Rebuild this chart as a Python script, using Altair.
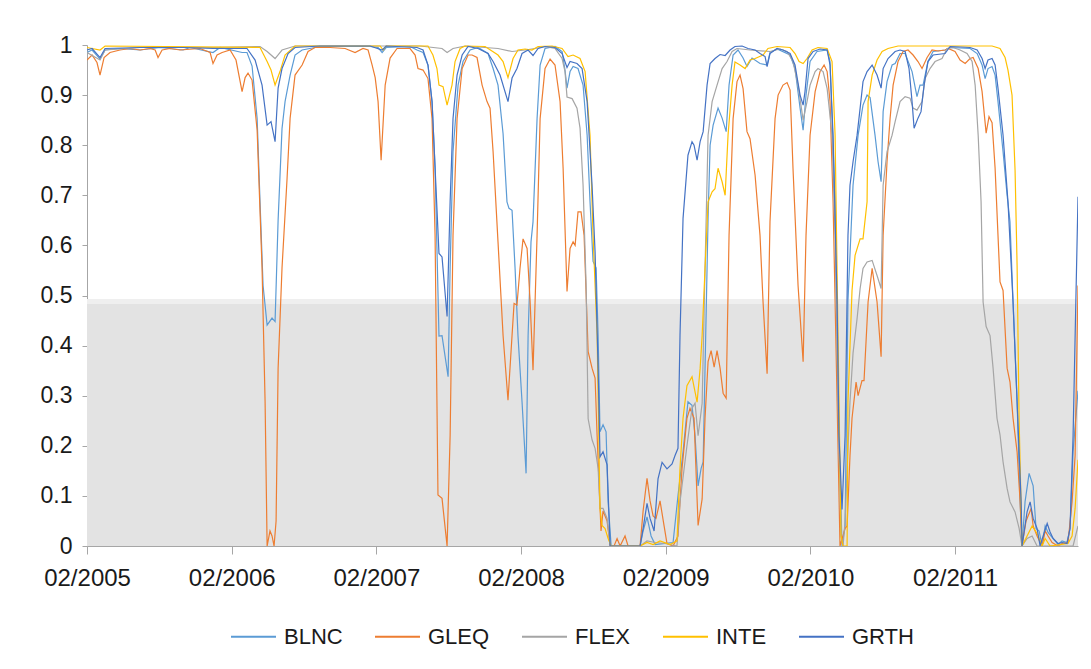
import altair as alt
import pandas as pd

SERIES = ["BLNC", "GLEQ", "FLEX", "INTE", "GRTH"]
COLORS = ["#5B9BD5", "#ED7D31", "#A5A5A5", "#FFC000", "#4472C4"]

# time as decimal year (02/2005 = 2005.083)
GLEQ_T = [2005.083, 2005.118, 2005.152, 2005.173, 2005.201, 2005.242, 2005.311, 2005.381, 2005.450, 2005.519,
          2005.554, 2005.574, 2005.602, 2005.657, 2005.726, 2005.864, 2005.934, 2005.954, 2005.982, 2006.017,
          2006.072, 2006.113, 2006.155, 2006.176, 2006.196, 2006.224, 2006.259, 2006.293, 2006.314, 2006.328,
          2006.348, 2006.362, 2006.376, 2006.390, 2006.404, 2006.431, 2006.466, 2006.487, 2006.521, 2006.570,
          2006.611, 2006.659, 2006.763, 2006.867, 2006.936, 2006.991, 2007.026, 2007.054, 2007.075, 2007.095,
          2007.116, 2007.144, 2007.178, 2007.226, 2007.316, 2007.351, 2007.371, 2007.406, 2007.440, 2007.468,
          2007.489, 2007.509, 2007.537, 2007.572, 2007.593, 2007.613, 2007.641, 2007.676, 2007.717, 2007.745,
          2007.779, 2007.814, 2007.848, 2007.869, 2007.890, 2007.924, 2007.959, 2007.993, 2008.021, 2008.035,
          2008.055, 2008.076, 2008.097, 2008.125, 2008.146, 2008.166, 2008.194, 2008.215, 2008.249, 2008.284,
          2008.318, 2008.353, 2008.374, 2008.401, 2008.422, 2008.443, 2008.457, 2008.477, 2008.498, 2008.519,
          2008.547, 2008.574, 2008.595, 2008.609, 2008.636, 2008.650, 2008.678, 2008.699, 2008.726, 2008.747,
          2008.768, 2008.802, 2008.823, 2008.906, 2008.927, 2008.954, 2008.975, 2008.996, 2009.016, 2009.044,
          2009.072, 2009.092, 2009.134, 2009.168, 2009.196, 2009.230, 2009.251, 2009.279, 2009.307, 2009.335,
          2009.355, 2009.376, 2009.397, 2009.418, 2009.438, 2009.459, 2009.480, 2009.501, 2009.521, 2009.549,
          2009.576, 2009.597, 2009.618, 2009.645, 2009.666, 2009.701, 2009.735, 2009.756, 2009.784, 2009.804,
          2009.839, 2009.860, 2009.894, 2009.922, 2009.943, 2009.963, 2009.998, 2010.033, 2010.053, 2010.081,
          2010.116, 2010.150, 2010.178, 2010.199, 2010.219, 2010.240, 2010.268, 2010.288, 2010.323, 2010.337,
          2010.357, 2010.371, 2010.399, 2010.413, 2010.440, 2010.454, 2010.482, 2010.510, 2010.544, 2010.572,
          2010.586, 2010.613, 2010.634, 2010.655, 2010.689, 2010.724, 2010.758, 2010.793, 2010.827, 2010.855,
          2010.890, 2010.924, 2010.966, 2011.014, 2011.035, 2011.083, 2011.118, 2011.153, 2011.187, 2011.208,
          2011.243, 2011.270, 2011.298, 2011.318, 2011.339, 2011.360, 2011.380, 2011.394, 2011.415, 2011.443,
          2011.463, 2011.484, 2011.512, 2011.533, 2011.546, 2011.574, 2011.609, 2011.623, 2011.650, 2011.685,
          2011.706, 2011.726, 2011.754, 2011.795, 2011.823, 2011.864, 2011.892, 2011.913, 2011.933]
GLEQ_V = [0.97, 0.98, 0.965, 0.94, 0.975, 0.985, 0.99, 0.993, 0.99, 0.993,
          0.99, 0.975, 0.99, 0.993, 0.99, 0.993, 0.985, 0.963, 0.98, 0.985,
          0.99, 0.97, 0.907, 0.935, 0.944, 0.93, 0.83, 0.555, 0.288, 0.0,
          0.03, 0.02, 0.0, 0.05, 0.355, 0.555, 0.734, 0.854, 0.94, 0.96,
          0.987, 0.995, 0.995, 0.993, 0.985, 0.993, 0.99, 0.96, 0.935, 0.887,
          0.77, 0.92, 0.974, 0.993, 0.993, 0.98, 0.953, 0.95, 0.933, 0.853,
          0.62, 0.102, 0.095, 0.0, 0.22, 0.62, 0.853, 0.953, 0.98, 0.98,
          0.975, 0.92, 0.887, 0.874, 0.787, 0.607, 0.42, 0.291, 0.42, 0.484,
          0.481, 0.554, 0.613, 0.594, 0.487, 0.351, 0.62, 0.853, 0.953, 0.972,
          0.96, 0.887, 0.754, 0.508, 0.594, 0.607, 0.6, 0.667, 0.667, 0.62,
          0.388, 0.355, 0.335, 0.22, 0.03, 0.07, 0.05, 0.0, 0.0, 0.015,
          0.0, 0.02, 0.0, 0.0, 0.07, 0.135, 0.09, 0.06, 0.055, 0.09,
          0.04, 0.005, 0.0, 0.02, 0.155, 0.255, 0.275, 0.255, 0.041, 0.094,
          0.255, 0.368, 0.39, 0.357, 0.39, 0.355, 0.305, 0.295, 0.62, 0.853,
          0.927, 0.94, 0.913, 0.827, 0.813, 0.74, 0.62, 0.487, 0.344, 0.647,
          0.853, 0.9, 0.92, 0.925, 0.91, 0.754, 0.52, 0.368, 0.62, 0.82,
          0.907, 0.947, 0.96, 0.947, 0.887, 0.687, 0.288, 0.0, 0.035, 0.04,
          0.18, 0.255, 0.327, 0.3, 0.33, 0.33, 0.487, 0.554, 0.487, 0.378,
          0.62, 0.767, 0.853, 0.92, 0.967, 0.987, 0.99, 0.98, 0.967, 0.953,
          0.975, 0.99, 0.988, 0.99, 0.993, 0.987, 0.97, 0.963, 0.973, 0.975,
          0.953, 0.907, 0.824, 0.857, 0.845, 0.754, 0.62, 0.527, 0.51, 0.355,
          0.327, 0.255, 0.188, 0.088, 0.0, 0.05, 0.075, 0.04, 0.02, 0.0,
          0.03, 0.02, 0.007, 0.0, 0.005, 0.007, 0.088, 0.18, 0.52]

BLNC_T = [2005.083, 2005.118, 2005.173, 2005.208, 2005.311, 2005.450, 2005.588, 2005.747, 2005.795, 2005.954,
          2006.003, 2006.155, 2006.189, 2006.224, 2006.259, 2006.279, 2006.300, 2006.328, 2006.362, 2006.383,
          2006.404, 2006.431, 2006.452, 2006.487, 2006.521, 2006.570, 2006.694, 2007.040, 2007.095, 2007.123,
          2007.151, 2007.316, 2007.364, 2007.406, 2007.440, 2007.468, 2007.489, 2007.516, 2007.537, 2007.579,
          2007.593, 2007.613, 2007.648, 2007.682, 2007.731, 2007.786, 2007.855, 2007.890, 2007.924, 2007.959,
          2007.986, 2008.000, 2008.021, 2008.042, 2008.062, 2008.090, 2008.118, 2008.132, 2008.152, 2008.166,
          2008.194, 2008.215, 2008.249, 2008.318, 2008.367, 2008.387, 2008.401, 2008.422, 2008.443, 2008.477,
          2008.512, 2008.540, 2008.560, 2008.581, 2008.602, 2008.616, 2008.629, 2008.650, 2008.671, 2008.685,
          2008.706, 2008.906, 2008.927, 2008.954, 2008.982, 2009.010, 2009.134, 2009.168, 2009.203, 2009.237,
          2009.265, 2009.286, 2009.307, 2009.328, 2009.342, 2009.355, 2009.376, 2009.390, 2009.411, 2009.445,
          2009.473, 2009.501, 2009.521, 2009.549, 2009.583, 2009.618, 2009.645, 2009.680, 2009.735, 2009.784,
          2009.804, 2009.853, 2009.943, 2009.977, 2010.012, 2010.033, 2010.053, 2010.081, 2010.129, 2010.199,
          2010.219, 2010.254, 2010.274, 2010.302, 2010.323, 2010.343, 2010.378, 2010.413, 2010.447, 2010.475,
          2010.496, 2010.530, 2010.551, 2010.572, 2010.586, 2010.613, 2010.648, 2010.669, 2010.703, 2010.738,
          2010.786, 2010.820, 2010.841, 2010.862, 2010.896, 2010.931, 2011.014, 2011.049, 2011.187, 2011.236,
          2011.270, 2011.291, 2011.311, 2011.339, 2011.360, 2011.380, 2011.415, 2011.443, 2011.463, 2011.484,
          2011.512, 2011.533, 2011.546, 2011.567, 2011.595, 2011.623, 2011.643, 2011.664, 2011.685, 2011.706,
          2011.726, 2011.754, 2011.775, 2011.795, 2011.823, 2011.857, 2011.878, 2011.899, 2011.933]
BLNC_V = [0.985, 0.99, 0.972, 0.99, 0.993, 0.99, 0.995, 0.99, 0.995, 0.985,
          0.995, 0.985, 0.985, 0.958, 0.853, 0.687, 0.52, 0.441, 0.455, 0.448,
          0.65, 0.833, 0.887, 0.94, 0.98, 0.99, 0.997, 0.997, 0.995, 0.985,
          0.995, 0.997, 0.99, 0.985, 0.96, 0.887, 0.755, 0.419, 0.42, 0.338,
          0.555, 0.787, 0.92, 0.967, 0.99, 0.995, 0.983, 0.953, 0.92, 0.823,
          0.687, 0.674, 0.67, 0.554, 0.42, 0.288, 0.145, 0.42, 0.607, 0.647,
          0.853, 0.96, 0.993, 0.997, 0.987, 0.95, 0.914, 0.947, 0.957, 0.953,
          0.92, 0.82, 0.687, 0.568, 0.555, 0.42, 0.228, 0.242, 0.228, 0.088,
          0.0, 0.0, 0.03, 0.058, 0.02, 0.003, 0.007, 0.1, 0.188, 0.288,
          0.281, 0.22, 0.12, 0.155, 0.168, 0.355, 0.654, 0.8, 0.84, 0.874,
          0.854, 0.827, 0.92, 0.98, 0.99, 0.974, 0.957, 0.974, 0.963, 0.96,
          0.985, 0.992, 0.98, 0.953, 0.874, 0.83, 0.9, 0.967, 0.987, 0.99,
          0.967, 0.687, 0.288, 0.0, 0.04, 0.49, 0.72, 0.82, 0.88, 0.9,
          0.895, 0.82, 0.767, 0.727, 0.867, 0.927, 0.96, 0.963, 0.983, 0.983,
          0.947, 0.897, 0.92, 0.92, 0.967, 0.987, 0.99, 0.995, 0.993, 0.983,
          0.96, 0.933, 0.953, 0.957, 0.94, 0.887, 0.787, 0.7, 0.647, 0.487,
          0.288, 0.088, 0.0, 0.088, 0.145, 0.12, 0.035, 0.03, 0.0, 0.04,
          0.027, 0.017, 0.01, 0.003, 0.01, 0.007, 0.035, 0.188, 0.31]

GRTH_T = [2005.083, 2005.118, 2005.173, 2005.208, 2005.450, 2005.747, 2005.954, 2006.189, 2006.245, 2006.293,
          2006.328, 2006.355, 2006.383, 2006.404, 2006.431, 2006.473, 2006.521, 2006.694, 2007.040, 2007.123,
          2007.151, 2007.364, 2007.406, 2007.440, 2007.468, 2007.489, 2007.516, 2007.537, 2007.572, 2007.593,
          2007.613, 2007.641, 2007.676, 2007.717, 2007.786, 2007.855, 2007.890, 2007.938, 2007.993, 2008.021,
          2008.055, 2008.090, 2008.132, 2008.166, 2008.201, 2008.249, 2008.318, 2008.367, 2008.401, 2008.422,
          2008.470, 2008.505, 2008.540, 2008.574, 2008.595, 2008.616, 2008.629, 2008.650, 2008.678, 2008.699,
          2008.906, 2008.927, 2008.954, 2008.975, 2009.003, 2009.030, 2009.058, 2009.092, 2009.127, 2009.147,
          2009.168, 2009.182, 2009.203, 2009.237, 2009.265, 2009.279, 2009.300, 2009.321, 2009.342, 2009.369,
          2009.390, 2009.424, 2009.459, 2009.494, 2009.528, 2009.562, 2009.611, 2009.652, 2009.701, 2009.735,
          2009.770, 2009.784, 2009.804, 2009.853, 2009.894, 2009.943, 2009.977, 2010.012, 2010.033, 2010.046,
          2010.067, 2010.102, 2010.150, 2010.199, 2010.219, 2010.240, 2010.268, 2010.281, 2010.302, 2010.323,
          2010.343, 2010.357, 2010.378, 2010.406, 2010.427, 2010.447, 2010.475, 2010.510, 2010.544, 2010.572,
          2010.586, 2010.620, 2010.669, 2010.703, 2010.738, 2010.765, 2010.786, 2010.800, 2010.827, 2010.848,
          2010.869, 2010.896, 2010.931, 2011.014, 2011.049, 2011.187, 2011.236, 2011.270, 2011.291, 2011.311,
          2011.339, 2011.360, 2011.380, 2011.415, 2011.449, 2011.484, 2011.512, 2011.540, 2011.546, 2011.581,
          2011.602, 2011.623, 2011.650, 2011.671, 2011.692, 2011.720, 2011.740, 2011.761, 2011.795, 2011.823,
          2011.857, 2011.878, 2011.899, 2011.933]
GRTH_V = [0.99, 0.993, 0.975, 0.993, 0.995, 0.995, 0.993, 0.993, 0.97, 0.92,
          0.84, 0.847, 0.807, 0.914, 0.953, 0.983, 0.995, 0.998, 0.998, 0.99,
          0.998, 0.995, 0.99, 0.96, 0.887, 0.755, 0.584, 0.577, 0.458, 0.687,
          0.853, 0.94, 0.98, 0.997, 0.993, 0.983, 0.967, 0.94, 0.887, 0.934,
          0.953, 0.983, 0.99, 0.979, 0.993, 0.997, 0.995, 0.983, 0.955, 0.967,
          0.963, 0.953, 0.887, 0.72, 0.587, 0.354, 0.178, 0.188, 0.162, 0.0,
          0.0, 0.035, 0.085, 0.055, 0.03, 0.134, 0.167, 0.154, 0.164, 0.18,
          0.195, 0.42, 0.654, 0.78, 0.807, 0.8, 0.77, 0.807, 0.827, 0.92,
          0.963, 0.973, 0.981, 0.979, 0.99, 0.997, 0.998, 0.993, 0.99, 0.983,
          0.977, 0.957, 0.983, 0.993, 0.99, 0.983, 0.96, 0.9, 0.88, 0.907,
          0.973, 0.987, 0.992, 0.99, 0.96, 0.82, 0.487, 0.22, 0.073, 0.22,
          0.62, 0.72, 0.767, 0.82, 0.874, 0.927, 0.947, 0.96, 0.94, 0.914,
          0.953, 0.973, 0.987, 0.99, 0.987, 0.953, 0.887, 0.834, 0.854, 0.867,
          0.92, 0.967, 0.98, 0.983, 0.997, 0.995, 0.99, 0.973, 0.953, 0.97,
          0.973, 0.96, 0.914, 0.82, 0.687, 0.487, 0.288, 0.088, 0.0, 0.068,
          0.088, 0.055, 0.035, 0.0, 0.02, 0.045, 0.028, 0.015, 0.005, 0.007,
          0.005, 0.035, 0.22, 0.697]

FLEX_T = [2005.083, 2005.173, 2005.208, 2005.450, 2005.954, 2006.279, 2006.328, 2006.383, 2006.431, 2006.521,
          2007.385, 2007.537, 2007.572, 2007.613, 2007.696, 2007.924, 2008.021, 2008.111, 2008.180, 2008.249,
          2008.318, 2008.367, 2008.387, 2008.401, 2008.436, 2008.470, 2008.491, 2008.512, 2008.533, 2008.547,
          2008.574, 2008.595, 2008.616, 2008.629, 2008.650, 2008.678, 2008.699, 2008.906, 2008.954, 2009.010,
          2009.078, 2009.161, 2009.182, 2009.230, 2009.265, 2009.286, 2009.307, 2009.335, 2009.355, 2009.376,
          2009.404, 2009.438, 2009.473, 2009.507, 2009.542, 2009.576, 2009.666, 2009.804, 2009.874, 2009.922,
          2009.963, 2009.998, 2010.033, 2010.060, 2010.081, 2010.116, 2010.136, 2010.171, 2010.199, 2010.233,
          2010.254, 2010.274, 2010.295, 2010.309, 2010.323, 2010.337, 2010.357, 2010.378, 2010.406, 2010.427,
          2010.447, 2010.475, 2010.510, 2010.544, 2010.572, 2010.586, 2010.613, 2010.648, 2010.669, 2010.703,
          2010.738, 2010.772, 2010.793, 2010.820, 2010.855, 2010.876, 2010.910, 2010.945, 2010.993, 2011.028,
          2011.069, 2011.118, 2011.166, 2011.201, 2011.222, 2011.243, 2011.263, 2011.277, 2011.298, 2011.325,
          2011.346, 2011.373, 2011.394, 2011.415, 2011.443, 2011.463, 2011.498, 2011.526, 2011.546, 2011.581,
          2011.616, 2011.650, 2011.899, 2011.933]
FLEX_V = [0.985, 0.97, 0.99, 0.995, 0.995, 0.997, 0.987, 0.973, 0.99, 0.998,
          0.998, 0.993, 0.985, 0.993, 0.998, 0.993, 0.987, 0.99, 0.993, 0.997,
          0.993, 0.973, 0.947, 0.896, 0.893, 0.874, 0.834, 0.72, 0.52, 0.254,
          0.212, 0.195, 0.155, 0.075, 0.075, 0.055, 0.0, 0.0, 0.01, 0.007,
          0.005, 0.0, 0.088, 0.2, 0.275, 0.285, 0.22, 0.285, 0.554, 0.82,
          0.887, 0.92, 0.953, 0.967, 0.987, 0.993, 0.99, 0.987, 0.992, 0.987,
          0.967, 0.92, 0.85, 0.887, 0.92, 0.947, 0.953, 0.947, 0.913, 0.82,
          0.62, 0.288, 0.02, 0.0, 0.05, 0.155, 0.288, 0.385, 0.454, 0.514,
          0.554, 0.567, 0.57, 0.54, 0.514, 0.72, 0.787, 0.82, 0.847, 0.887,
          0.897, 0.894, 0.874, 0.87, 0.887, 0.933, 0.953, 0.967, 0.973, 0.993,
          0.995, 0.99, 0.983, 0.967, 0.92, 0.82, 0.687, 0.487, 0.438, 0.42,
          0.355, 0.255, 0.222, 0.168, 0.115, 0.088, 0.068, 0.035, 0.0, 0.015,
          0.02, 0.0, 0.0, 0.04]

INTE_T = [2005.083, 2005.173, 2005.208, 2006.279, 2006.328, 2006.355, 2006.383, 2006.417, 2006.452, 2006.521,
          2007.109, 2007.130, 2007.151, 2007.440, 2007.474, 2007.502, 2007.516, 2007.544, 2007.572, 2007.606,
          2007.627, 2007.662, 2007.696, 2007.835, 2007.924, 2007.959, 2007.993, 2008.028, 2008.062, 2008.111,
          2008.159, 2008.201, 2008.298, 2008.367, 2008.408, 2008.443, 2008.491, 2008.526, 2008.560, 2008.581,
          2008.609, 2008.629, 2008.643, 2008.664, 2008.685, 2008.706, 2008.906, 2008.954, 2008.996, 2009.044,
          2009.113, 2009.161, 2009.182, 2009.203, 2009.230, 2009.265, 2009.300, 2009.321, 2009.335, 2009.355,
          2009.376, 2009.404, 2009.424, 2009.445, 2009.473, 2009.494, 2009.514, 2009.542, 2009.562, 2009.597,
          2009.632, 2009.666, 2009.701, 2009.756, 2009.790, 2009.853, 2009.943, 2009.977, 2010.005, 2010.033,
          2010.060, 2010.095, 2010.136, 2010.199, 2010.233, 2010.254, 2010.274, 2010.295, 2010.309, 2010.337,
          2010.343, 2010.371, 2010.392, 2010.427, 2010.447, 2010.475, 2010.482, 2010.510, 2010.544, 2010.579,
          2010.620, 2010.689, 2011.339, 2011.394, 2011.429, 2011.449, 2011.477, 2011.498, 2011.512, 2011.526,
          2011.546, 2011.581, 2011.616, 2011.650, 2011.685, 2011.706, 2011.740, 2011.864, 2011.892, 2011.913,
          2011.933]
INTE_V = [0.995, 0.99, 0.998, 0.995, 0.967, 0.95, 0.92, 0.947, 0.98, 0.998,
          0.998, 0.99, 0.998, 0.998, 0.98, 0.953, 0.92, 0.917, 0.88, 0.92,
          0.967, 0.993, 0.998, 0.997, 0.98, 0.967, 0.935, 0.973, 0.99, 0.992,
          0.99, 0.997, 0.998, 0.993, 0.977, 0.98, 0.973, 0.947, 0.82, 0.62,
          0.42, 0.075, 0.041, 0.035, 0.015, 0.0, 0.0, 0.007, 0.003, 0.01,
          0.003, 0.01, 0.155, 0.255, 0.32, 0.338, 0.287, 0.354, 0.42, 0.554,
          0.687, 0.707, 0.713, 0.754, 0.727, 0.7, 0.82, 0.92, 0.966, 0.96,
          0.953, 0.97, 0.973, 0.98, 0.993, 0.997, 0.995, 0.983, 0.967, 0.963,
          0.973, 0.99, 0.995, 0.993, 0.967, 0.82, 0.42, 0.02, 0.0, 0.0,
          0.287, 0.51, 0.58, 0.613, 0.613, 0.687, 0.887, 0.94, 0.97, 0.987,
          0.993, 0.998, 0.998, 0.993, 0.975, 0.95, 0.9, 0.75, 0.56, 0.25,
          0.0, 0.02, 0.04, 0.025, 0.0, 0.015, 0.0, 0.005, 0.02, 0.075,
          0.172]

BAND_LO = [0.0, 0.483]
BAND_HI = [0.483, 0.493]
BAND_FILL = ["#E3E3E3", "#EFEFEF"]

YEARS = [2005, 2006, 2007, 2008, 2009, 2010, 2011]
FEB = 1.0 / 12.0

series_data = {
    "BLNC": (BLNC_T, BLNC_V),
    "GLEQ": (GLEQ_T, GLEQ_V),
    "FLEX": (FLEX_T, FLEX_V),
    "INTE": (INTE_T, INTE_V),
    "GRTH": (GRTH_T, GRTH_V),
}

t_min = min(min(t) for t, _ in series_data.values())
t_max = max(max(t) for t, _ in series_data.values())

W, H = 991, 501
FONT = "Liberation Sans"

xscale = alt.Scale(domain=[t_min, t_max], nice=False, zero=False)
yscale = alt.Scale(domain=[0, 1], nice=False)

xaxis = alt.Axis(values=[y + FEB for y in YEARS],
                 labelExpr="'02/' + floor(datum.value)",
                 title=None, grid=False, domainColor="#A6A6A6", tickColor="#A6A6A6",
                 tickSize=8, labelPadding=12, labelFontSize=24, labelFont=FONT,
                 labelColor="#1a1a1a", labelFlush=False, labelOverlap=False)
yaxis = alt.Axis(values=[i / 10 for i in range(11)], format=".1~f", title=None,
                 grid=False, domainColor="#A6A6A6", tickColor="#A6A6A6", tickSize=5,
                 labelPadding=10, labelFontSize=23, labelFont=FONT,
                 labelColor="#1a1a1a", labelFlush=False, labelOverlap=False)

band_df = pd.DataFrame({"lo": BAND_LO, "hi": BAND_HI, "fill": BAND_FILL,
                        "x0": [t_min] * len(BAND_LO), "x1": [t_max] * len(BAND_LO)})

bands = []
for i in range(len(BAND_LO)):
    bands.append(
        alt.Chart(band_df).transform_filter(alt.datum.fill == BAND_FILL[i])
        .mark_rect(color=BAND_FILL[i], strokeWidth=0).encode(
            x=alt.X("x0:Q", scale=xscale, axis=xaxis),
            x2="x1:Q",
            y=alt.Y("lo:Q", scale=yscale, axis=yaxis),
            y2="hi:Q",
        )
    )

color_scale = alt.Scale(domain=SERIES, range=COLORS)
legend = alt.Legend(orient="none", legendX=143, legendY=568, direction="horizontal", title=None,
                    symbolType="stroke", symbolSize=2025, symbolStrokeWidth=2,
                    labelFontSize=22, labelFont=FONT, labelColor="#1a1a1a",
                    columnPadding=28, labelOffset=7, padding=0)

long_rows = []
for name in SERIES:
    t, v = series_data[name]
    long_rows.append(pd.DataFrame({"t": t, "v": v, "series": name}))
lines_df = pd.concat(long_rows, ignore_index=True)

line_layers = []
for name in SERIES:
    line_layers.append(
        alt.Chart(lines_df).transform_filter(alt.datum.series == name)
        .mark_line(strokeWidth=1.2, clip=True).encode(
            x=alt.X("t:Q", scale=xscale, axis=xaxis),
            y=alt.Y("v:Q", scale=yscale, axis=yaxis),
            color=alt.Color("series:N", scale=color_scale, legend=legend),
        )
    )

chart = alt.layer(*bands, *line_layers).properties(
    width=W, height=H,
    autosize=alt.AutoSizeParams(type="none"),
    padding={"left": 79, "top": 37, "right": 5, "bottom": 115},
).configure(background="white").configure_view(stroke=None)

chart.save("out.html", embed_options={"renderer": "svg", "actions": False})
